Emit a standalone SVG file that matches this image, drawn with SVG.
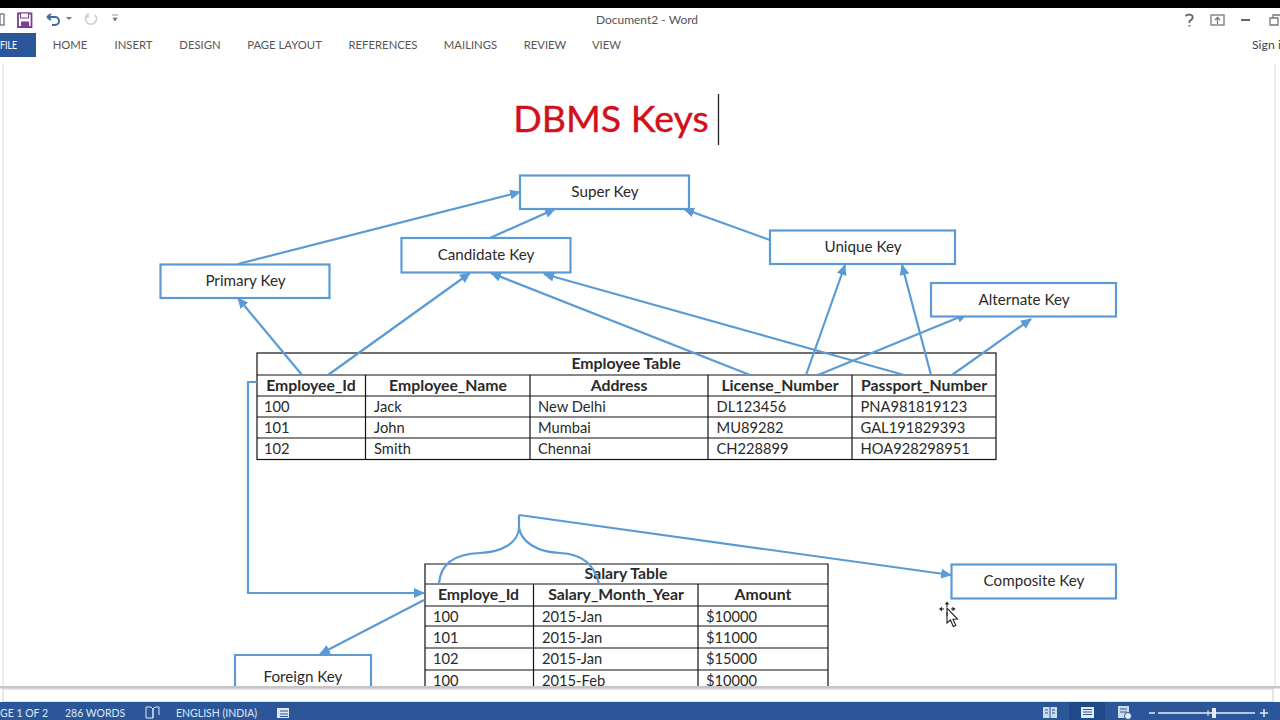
<svg xmlns="http://www.w3.org/2000/svg" width="1280" height="720" viewBox="0 0 1280 720">
<style>
text{font-family:Lato,"Open Sans",sans-serif;fill:#2a2a2a}
.ui{font-size:11.300px;fill:#555;text-anchor:middle}
.st{font-size:10.500px;fill:#dfe8f4}
.node rect{fill:#fff;stroke:#5b9bd5;stroke-width:2.200}
.node text{font-size:15.200px;text-anchor:middle}
.c{fill:none;stroke:#5b9bd5;stroke-width:2.200}
.tb line,.tb rect{stroke:#111;stroke-width:1.200;fill:none}
.h{font-size:15.800px;font-weight:700;text-anchor:middle}
.d{font-size:14.700px}
.ic{fill:none;stroke:#777;stroke-width:1.300}
.sl{stroke:#2b579a;stroke-width:1}
</style>
<defs>
<marker id="a" markerUnits="userSpaceOnUse" markerWidth="12" markerHeight="10" refX="10" refY="5" orient="auto"><path d="M0 0L11 5L0 10z" fill="#5b9bd5"/></marker>
</defs>
<rect width="1280" height="720" fill="#fff"/>
<g id="window-chrome">
<rect width="1280" height="8" fill="#000"/>
<rect x="0" y="14" width="4" height="11" fill="none" stroke="#667" stroke-width="1.200"/>
<path d="M18 13.500h13.500v13.500h-13.500z" fill="none" stroke="#7b3f98" stroke-width="1.800"/><rect x="20.500" y="13" width="8" height="5" fill="#fff" stroke="#7b3f98"/><rect x="21" y="21.500" width="8" height="5.500" fill="#7b3f98"/>
<path d="M47 17h8a4 4 0 0 1 0 8h-3M47 17l4-3M47 17l4 3" fill="none" stroke="#3a6ea5" stroke-width="2"/>
<path d="M66 17l3 3 3-3z" fill="#777"/>
<path d="M87 15a5.500 5.500 0 1 0 8 0M88 13v4h-3" fill="none" stroke="#ccc" stroke-width="1.500"/>
<path d="M112 15h6M113 18l2 3 2-3z" fill="#777" stroke="#777" stroke-width=".8"/>
<text x="647" y="24" class="ui" style="font-size:12px">Document2 - Word</text>
<path d="M1185.500 16q3.500-3 7 0q1 3-3 5v2M1189.500 25v1.500" fill="none" stroke="#666" stroke-width="1.800"/>
<rect x="1211" y="15" width="13" height="10" class="ic"/><path d="M1217.500 24v-6M1215 20l2.500-2.500 2.500 2.500" class="ic"/>
<path d="M1241 20h9" stroke="#666" stroke-width="2"/>
<path d="M1270 18h8v7h-8zM1273 18v-3h7" class="ic"/>
<rect x="0" y="33" width="36" height="24" fill="#2b579a"/>
<text x="0" y="49" textLength="17" lengthAdjust="spacingAndGlyphs" style="font-size:11.300px;fill:#fff">FILE</text>
<text x="70" y="49" class="ui">HOME</text>
<text x="133.500" y="49" class="ui">INSERT</text>
<text x="200" y="49" class="ui">DESIGN</text>
<text x="284.500" y="49" class="ui">PAGE LAYOUT</text>
<text x="383" y="49" class="ui">REFERENCES</text>
<text x="470.500" y="49" class="ui">MAILINGS</text>
<text x="545" y="49" class="ui">REVIEW</text>
<text x="606.500" y="49" class="ui">VIEW</text>
<text x="1252" y="49" style="font-size:12.300px;fill:#444">Sign i</text>
<path d="M3 64V686M1275 64V686" stroke="#ddd"/>
</g>
<text id="title" x="611" y="132" text-anchor="middle" style="font-size:37.500px;fill:#d40f1c;stroke:#d40f1c;stroke-width:.4">DBMS Keys</text>
<path id="cursor" d="M718.500 94V145" stroke="#222" stroke-width="1.300"/>
<g id="employee-table" class="tb">
<rect x="257" y="353" width="739" height="106.500"/>
<line x1="257" y1="375" x2="996" y2="375"/><line x1="257" y1="396" x2="996" y2="396"/><line x1="257" y1="417" x2="996" y2="417"/><line x1="257" y1="438" x2="996" y2="438"/>
<line x1="365.500" y1="375" x2="365.500" y2="459"/><line x1="530" y1="375" x2="530" y2="459"/><line x1="708" y1="375" x2="708" y2="459"/><line x1="852" y1="375" x2="852" y2="459"/>
<text x="626" y="369" class="h">Employee Table</text>
<text x="311" y="390.500" class="h">Employee_Id</text><text x="448" y="390.500" class="h">Employee_Name</text><text x="619" y="390.500" class="h">Address</text><text x="780" y="390.500" class="h">License_Number</text><text x="924" y="390.500" class="h">Passport_Number</text>
<text x="264" y="411.500" class="d">100</text><text x="374" y="411.500" class="d">Jack</text><text x="538" y="411.500" class="d">New Delhi</text><text x="716.500" y="411.500" class="d">DL123456</text><text x="860.500" y="411.500" class="d">PNA981819123</text>
<text x="264" y="432.500" class="d">101</text><text x="374" y="432.500" class="d">John</text><text x="538" y="432.500" class="d">Mumbai</text><text x="716.500" y="432.500" class="d">MU89282</text><text x="860.500" y="432.500" class="d">GAL191829393</text>
<text x="264" y="453.500" class="d">102</text><text x="374" y="453.500" class="d">Smith</text><text x="538" y="453.500" class="d">Chennai</text><text x="716.500" y="453.500" class="d">CH228899</text><text x="860.500" y="453.500" class="d">HOA928298951</text>
</g>
<g id="salary-table" class="tb">
<path d="M425 686V564H828V686" fill="none" stroke="#111" stroke-width="1.200"/>
<line x1="425" y1="584" x2="828" y2="584"/><line x1="425" y1="606" x2="828" y2="606"/><line x1="425" y1="626" x2="828" y2="626"/><line x1="425" y1="648" x2="828" y2="648"/><line x1="425" y1="670" x2="828" y2="670"/>
<line x1="533.500" y1="584" x2="533.500" y2="686"/><line x1="698" y1="584" x2="698" y2="686"/>
<text x="626" y="579" class="h">Salary Table</text>
<text x="478.500" y="600" class="h">Employe_Id</text><text x="616" y="600" class="h">Salary_Month_Year</text><text x="763" y="600" class="h">Amount</text>
<text x="433" y="622" class="d">100</text><text x="542" y="622" class="d">2015-Jan</text><text x="706" y="622" class="d">$10000</text>
<text x="433" y="642.500" class="d">101</text><text x="542" y="642.500" class="d">2015-Jan</text><text x="706" y="642.500" class="d">$11000</text>
<text x="433" y="664" class="d">102</text><text x="542" y="664" class="d">2015-Jan</text><text x="706" y="664" class="d">$15000</text>
<text x="433" y="685.500" class="d">100</text><text x="542" y="685.500" class="d">2015-Feb</text><text x="706" y="685.500" class="d">$10000</text>
</g>
<g id="connectors">
<path class="c" marker-end="url(#a)" d="M238 264L520 192"/>
<path class="c" marker-end="url(#a)" d="M490 238L555 209"/>
<path class="c" marker-end="url(#a)" d="M770 240L684 209"/>
<path class="c" marker-end="url(#a)" d="M302 375L238 298"/>
<path class="c" marker-end="url(#a)" d="M328 375L470 273"/>
<path class="c" marker-end="url(#a)" d="M750 375L491 273"/>
<path class="c" marker-end="url(#a)" d="M904 375L544 274"/>
<path class="c" marker-end="url(#a)" d="M806 375L845 265"/>
<path class="c" marker-end="url(#a)" d="M931 375L902 265"/>
<path class="c" marker-end="url(#a)" d="M818 375L967 314"/>
<path class="c" marker-end="url(#a)" d="M952 375L1031 319"/>
<path class="c" marker-end="url(#a)" d="M257 382H248V593H424"/>
<path class="c" marker-end="url(#a)" d="M424 600L320 654"/>
<path class="c" marker-end="url(#a)" d="M519 515L951 575"/>
<path class="c" d="M439 584C440 566 452 554 480 553C502 552 518 543 519 528V515M519 528C522 543 538 552 560 553C584 554 595 566 599 584"/>
</g>
<g id="super-key" class="node"><rect x="520" y="175.500" width="169" height="33.500"/><text x="605" y="197">Super Key</text></g>
<g id="candidate-key" class="node"><rect x="401.500" y="238" width="169" height="34.500"/><text x="486" y="260">Candidate Key</text></g>
<g id="primary-key" class="node"><rect x="160.500" y="264.500" width="169" height="33.500"/><text x="245.500" y="286">Primary Key</text></g>
<g id="unique-key" class="node"><rect x="770" y="230.500" width="185" height="33.500"/><text x="863" y="252">Unique Key</text></g>
<g id="alternate-key" class="node"><rect x="931" y="283" width="185" height="33.500"/><text x="1024" y="305">Alternate Key</text></g>
<g id="composite-key" class="node"><rect x="951.500" y="564.500" width="164.500" height="34"/><text x="1034" y="586">Composite Key</text></g>
<g id="foreign-key" class="node"><path d="M235 686V655H371V686" fill="#fff" stroke="#5b9bd5" stroke-width="2.200"/><text x="303" y="682">Foreign Key</text></g>
<g id="mouse-pointer">
<path d="M947 608v15l3.500-3 2.800 6.500 2.500-1-2.800-6.300 4.500-.2z" fill="#fff" stroke="#222" stroke-width="1.100"/>
<path d="M947 603v4M947 612v4M940 609h4M951 609h3" stroke="#222" stroke-width="1"/>
<path d="M947 601.500l-2.200 3h4.400zM939 609l3-2.200v4.400zM955.500 609l-3-2.200v4.400z" fill="#222"/>
</g>
<g id="status-bar">
<rect x="0" y="686" width="1280" height="2.500" fill="#c6c6c6"/>
<rect x="3" y="689" width="1270" height="13" fill="#fff" stroke="#ccc"/>
<rect x="0" y="702" width="1280" height="18" fill="#2b579a"/>
<text x="0" y="717" class="st">GE 1 OF 2</text>
<text x="65" y="717" class="st">286 WORDS</text>
<path d="M146 707h5l2 2v9h-7zM153 709l2-2h4v8M153 718v-9" fill="none" stroke="#dfe8f4"/>
<text x="176" y="717" class="st">ENGLISH (INDIA)</text>
<rect x="277" y="708" width="12" height="10" fill="#dfe8f4"/><path class="sl" d="M280 711h8M280 714h8M280 716.500h8"/>
<rect x="1043" y="707" width="14" height="11" fill="#cfdcec"/><path class="sl" d="M1050 707v11M1045 710h3M1045 713h3M1052 710h3M1052 713h3"/>
<rect x="1069" y="702" width="36" height="18" fill="#1f4a8a"/>
<rect x="1081" y="707" width="13" height="11" fill="#e6ecf5"/><path class="sl" d="M1083 709.500h9M1083 712h9M1083 714.500h9"/>
<rect x="1118" y="706" width="11" height="12" fill="#cfdcec"/><circle cx="1128" cy="716" r="3.500" fill="#e6ecf5" stroke="#2b579a"/><path class="sl" d="M1120 709h7M1120 712h7"/>
<path d="M1149 713h6M1158 713h97M1260 713h8M1264 709v8" stroke="#e6ecf5" stroke-width="1.500"/>
<rect x="1212" y="708" width="4" height="10" fill="#e6ecf5"/><path d="M1208 710v6" stroke="#e6ecf5"/>
</g>
</svg>
